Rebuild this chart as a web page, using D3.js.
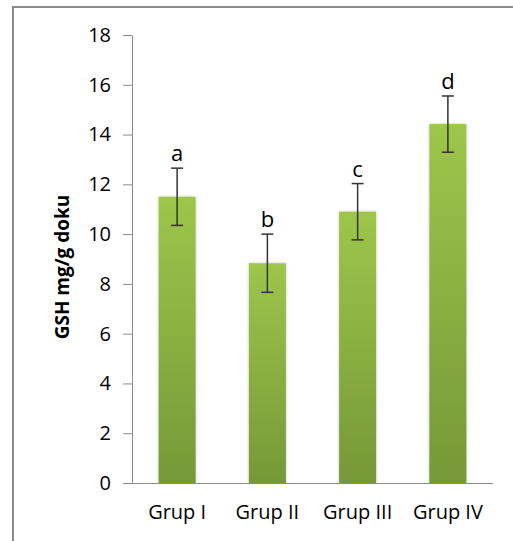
<!DOCTYPE html>
<html>
<head>
<meta charset="utf-8">
<script src="https://cdn.jsdelivr.net/npm/d3@7"></script>
<style>
  html, body { margin: 0; background: #fff; overflow: hidden; }
  svg { display: block; }
  text { font-family: "Open Sans", sans-serif; fill: #000; }
</style>
</head>
<body>
<div id="chart"></div>
<script>
const groups = ["Grup I", "Grup II", "Grup III", "Grup IV"]
const gsh = [11.5, 8.83, 10.9, 14.42]
const err = [1.15, 1.17, 1.13, 1.13]
const letters = ["a", "b", "c", "d"]
const y_ticks = [0, 2, 4, 6, 8, 10, 12, 14, 16, 18]

const W = 513, H = 541
const margin = {top: 35, right: 20, bottom: 58, left: 132}
const width = W - margin.left - margin.right,
      height = H - margin.top - margin.bottom

const root = d3.select("#chart").append("svg")
    .attr("width", W)
    .attr("height", H)

// outer chart frame (cut off at right/bottom like the source)
root.append("rect")
    .attr("x", 13).attr("y", 7)
    .attr("width", W + 20).attr("height", H + 20)
    .attr("fill", "none")
    .attr("stroke", "#8c8c8c")
    .attr("stroke-width", 2)

const defs = root.append("defs")
const grad = defs.append("linearGradient")
    .attr("id", "barGrad")
    .attr("x1", 0).attr("y1", 0).attr("x2", 0).attr("y2", 1)
grad.append("stop").attr("offset", "0%").attr("stop-color", "#9dc64b")
grad.append("stop").attr("offset", "100%").attr("stop-color", "#769837")

const shadow = defs.append("filter").attr("id", "shadow")
    .attr("x", "-20%").attr("y", "-5%").attr("width", "140%").attr("height", "110%")
shadow.append("feGaussianBlur").attr("in", "SourceAlpha").attr("stdDeviation", 1.5)
shadow.append("feOffset").attr("dx", 0).attr("dy", 0).attr("result", "b")
shadow.append("feComponentTransfer").append("feFuncA").attr("type", "linear").attr("slope", 0.25)
const merge = shadow.append("feMerge")
merge.append("feMergeNode")
merge.append("feMergeNode").attr("in", "SourceGraphic")

const svg = root.append("g")
    .attr("transform", "translate(" + margin.left + "," + margin.top + ")")

const x = d3.scaleBand()
    .domain(groups)
    .range([0, width])
    .paddingInner(0.59)
    .paddingOuter(0.295)

const y = d3.scaleLinear()
    .domain([0, 18])
    .range([height, 0])

// y axis
const yAxis = svg.append("g")
    .call(d3.axisLeft(y)
        .tickValues(y_ticks)
        .tickSizeInner(9)
        .tickSizeOuter(0)
        .tickPadding(12))
yAxis.select(".domain").attr("stroke", "#8c8c8c")
yAxis.selectAll(".tick line").attr("stroke", "#8c8c8c")
yAxis.selectAll("text").style("font-size", "20px").attr("fill", "#000")

// bars
svg.selectAll(".bar")
    .data(groups)
    .enter().append("rect")
    .attr("class", "bar")
    .attr("x", d => x(d))
    .attr("width", x.bandwidth())
    .attr("y", (d, i) => y(gsh[i]))
    .attr("height", (d, i) => height - y(gsh[i]))
    .attr("fill", "url(#barGrad)")
    .attr("filter", "url(#shadow)")

// x axis
const xAxis = svg.append("g")
    .attr("transform", "translate(0," + height + ")")
    .call(d3.axisBottom(x)
        .tickSize(0)
        .tickSizeOuter(0)
        .tickPadding(22))
xAxis.select(".domain").attr("stroke", "#8c8c8c").attr("d", "M-9,0.5H" + width)
xAxis.selectAll("text").style("font-size", "20px").attr("fill", "#000")

// error bars
const eb = svg.selectAll(".err")
    .data(groups)
    .enter().append("g")
    .attr("class", "err")
    .attr("stroke", "#333")
    .attr("stroke-width", 1.5)
eb.append("line")
    .attr("x1", d => x(d) + x.bandwidth() / 2)
    .attr("x2", d => x(d) + x.bandwidth() / 2)
    .attr("y1", (d, i) => y(gsh[i] + err[i]))
    .attr("y2", (d, i) => y(gsh[i] - err[i]))
eb.append("line")
    .attr("x1", d => x(d) + x.bandwidth() / 2 - 6)
    .attr("x2", d => x(d) + x.bandwidth() / 2 + 6)
    .attr("y1", (d, i) => y(gsh[i] + err[i]))
    .attr("y2", (d, i) => y(gsh[i] + err[i]))
eb.append("line")
    .attr("x1", d => x(d) + x.bandwidth() / 2 - 6)
    .attr("x2", d => x(d) + x.bandwidth() / 2 + 6)
    .attr("y1", (d, i) => y(gsh[i] - err[i]))
    .attr("y2", (d, i) => y(gsh[i] - err[i]))

// significance letters
svg.selectAll(".letter")
    .data(groups)
    .enter().append("text")
    .attr("class", "letter")
    .attr("x", d => x(d) + x.bandwidth() / 2)
    .attr("y", (d, i) => y(gsh[i] + err[i]) - 7)
    .attr("text-anchor", "middle")
    .style("font-size", "22px")
    .text((d, i) => letters[i])

// y title
root.append("text")
    .attr("transform", "translate(69," + (margin.top + height / 2 + 8) + ") rotate(-90)")
    .attr("text-anchor", "middle")
    .style("font-size", "19px")
    .style("font-weight", "bold")
    .text("GSH mg/g doku")
</script>
</body>
</html>
